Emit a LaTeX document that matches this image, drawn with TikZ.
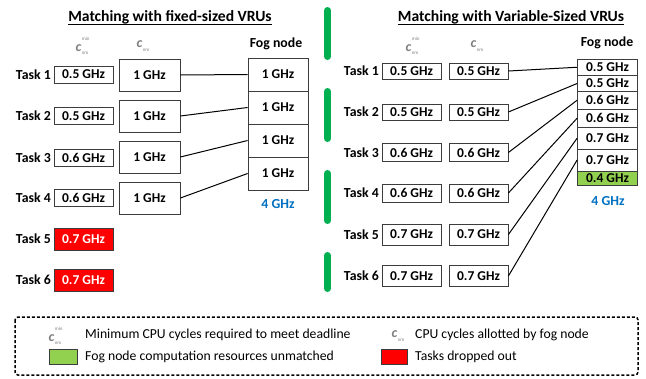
\documentclass[tikz,border=0pt]{standalone}
\usepackage{fontspec}
\setmainfont{Carlito}
\definecolor{barGreen}{RGB}{0,176,80}
\definecolor{fillGreen}{RGB}{146,208,80}
\definecolor{dropRed}{RGB}{255,0,0}
\definecolor{capBlue}{RGB}{0,112,192}
\definecolor{boxLine}{RGB}{60,60,60}
\definecolor{symGray}{RGB}{128,128,128}
\newcommand{\cmin}{\textbf{\textit{c}}\kern0.3pt\rlap{\raisebox{10.5pt}{\fontsize{5}{5}\selectfont min}}\raisebox{-3.5pt}{\fontsize{5}{5}\selectfont nm}}
\newcommand{\cnm}{\textbf{\textit{c}}\kern0.3pt\raisebox{-3.5pt}{\fontsize{5}{5}\selectfont nm}}
\begin{document}
\begin{tikzpicture}[x=1pt,y=-1pt,
  vbox/.style={draw=boxLine, line width=0.8pt, inner sep=0pt, font=\fontsize{13.5}{15}\selectfont\bfseries, text=black},
  minbox/.style={vbox, minimum width=59pt},
  redbox/.style={vbox, fill=dropRed, text=white, minimum width=59pt, minimum height=22pt},
  fogbox/.style={vbox, minimum width=60pt},
  tasklbl/.style={anchor=east, inner sep=0pt, font=\fontsize{13.8}{15}\selectfont\bfseries},
  headlbl/.style={inner sep=0pt, font=\fontsize{13.8}{15}\selectfont\bfseries},
  titlelbl/.style={inner sep=0pt, font=\fontsize{15.6}{17}\selectfont\bfseries},
  symlbl/.style={inner sep=0pt, text=symGray, font=\fontsize{14}{16}\selectfont},
  totlbl/.style={inner sep=0pt, text=capBlue, font=\fontsize{13.8}{15}\selectfont\bfseries},
  leglbl/.style={anchor=west, inner sep=0pt, font=\fontsize{13.7}{15}\selectfont},
  conn/.style={line width=1pt, black},
  uline/.style={line width=0.9pt, black},
  sepbar/.style={line width=7pt, barGreen, line cap=round}
]
\useasboundingbox (0,0) rectangle (646,378);

% ---------- separators ----------
\draw[sepbar] (327.5,10.5) -- (327.5,56.5);
\draw[sepbar] (327.5,91.5) -- (327.5,138.5);
\draw[sepbar] (327.5,173.5) -- (327.5,220.5);
\draw[sepbar] (327.5,255.5) -- (327.5,288.5);

% ---------- LEFT ----------
\node[titlelbl] (tl) at (170,17) {Matching with fixed-sized VRUs};
\draw[uline] ([yshift=-3pt]tl.base west) -- ([yshift=-3pt]tl.base east);
\node[symlbl] (lsa) at (82,46) {\cmin};
\node[symlbl] (lsb) at (143,46) {\cnm};
\node[headlbl] (lfh) at (276,44) {Fog node};

\node[tasklbl] (lt1) at (51,74.5) {Task 1};
\node[tasklbl] (lt2) at (51,116) {Task 2};
\node[tasklbl] (lt3) at (51,157.5) {Task 3};
\node[tasklbl] (lt4) at (51,198) {Task 4};
\node[tasklbl] (lt5) at (51,239) {Task 5};
\node[tasklbl] (lt6) at (51,280) {Task 6};

\node[minbox, minimum height=17pt] (lm1) at (83.5,74.5) {0.5 GHz};
\node[minbox, minimum height=17pt] (lm2) at (83.5,116) {0.5 GHz};
\node[minbox, minimum height=17pt] (lm3) at (83.5,157.5) {0.6 GHz};
\node[minbox, minimum height=17pt] (lm4) at (83.5,198) {0.6 GHz};
\node[redbox] (lm5) at (83.5,239) {0.7 GHz};
\node[redbox] (lm6) at (83.5,280) {0.7 GHz};

\node[vbox, minimum width=61pt, minimum height=32pt] (lc1) at (149.5,75) {1 GHz};
\node[vbox, minimum width=61pt, minimum height=32pt] (lc2) at (149.5,116) {1 GHz};
\node[vbox, minimum width=61pt, minimum height=32pt] (lc3) at (149.5,157) {1 GHz};
\node[vbox, minimum width=61pt, minimum height=32pt] (lc4) at (149.5,198) {1 GHz};

\node[fogbox, minimum height=33pt] (lf1) at (278,74.5) {1 GHz};
\node[fogbox, minimum height=33pt] (lf2) at (278,107.5) {1 GHz};
\node[fogbox, minimum height=33pt] (lf3) at (278,140.5) {1 GHz};
\node[fogbox, minimum height=33pt] (lf4) at (278,173.5) {1 GHz};
\node[totlbl] (lft) at (278,204) {4 GHz};

\draw[conn] (lc1.east) -- (lf1.west);
\draw[conn] (lc2.east) -- (lf2.west);
\draw[conn] (lc3.east) -- (lf3.west);
\draw[conn] (lc4.east) -- (lf4.west);

% ---------- RIGHT ----------
\node[titlelbl] (tr) at (511,17) {Matching with Variable-Sized VRUs};
\draw[uline] ([yshift=-3pt]tr.base west) -- ([yshift=-3pt]tr.base east);
\node[symlbl] (rsa) at (412,46) {\cmin};
\node[symlbl] (rsb) at (477,46) {\cnm};
\node[headlbl] (rfh) at (607,43) {Fog node};

\node[tasklbl] (rt1) at (379,71) {Task 1};
\node[tasklbl] (rt2) at (379,112) {Task 2};
\node[tasklbl] (rt3) at (379,152.5) {Task 3};
\node[tasklbl] (rt4) at (379,193) {Task 4};
\node[tasklbl] (rt5) at (379,234.5) {Task 5};
\node[tasklbl] (rt6) at (379,276) {Task 6};

\node[minbox, minimum height=16pt] (rm1) at (411.5,71) {0.5 GHz};
\node[minbox, minimum height=16pt] (rm2) at (411.5,112) {0.5 GHz};
\node[minbox, minimum height=18pt] (rm3) at (411.5,152.5) {0.6 GHz};
\node[minbox, minimum height=18pt] (rm4) at (411.5,193) {0.6 GHz};
\node[minbox, minimum height=21pt] (rm5) at (411.5,234.5) {0.7 GHz};
\node[minbox, minimum height=21pt] (rm6) at (411.5,276) {0.7 GHz};

\node[minbox, minimum height=16pt] (rc1) at (478.5,71) {0.5 GHz};
\node[minbox, minimum height=16pt] (rc2) at (478.5,112) {0.5 GHz};
\node[minbox, minimum height=18pt] (rc3) at (478.5,152.5) {0.6 GHz};
\node[minbox, minimum height=18pt] (rc4) at (478.5,193) {0.6 GHz};
\node[minbox, minimum height=21pt] (rc5) at (478.5,234.5) {0.7 GHz};
\node[minbox, minimum height=21pt] (rc6) at (478.5,276) {0.7 GHz};

\node[fogbox, minimum height=16.5pt] (rf1) at (607.5,67.25) {0.5 GHz};
\node[fogbox, minimum height=16pt] (rf2) at (607.5,83.5) {0.5 GHz};
\node[fogbox, minimum height=17.5pt] (rf3) at (607.5,100.25) {0.6 GHz};
\node[fogbox, minimum height=18.5pt] (rf4) at (607.5,118.25) {0.6 GHz};
\node[fogbox, minimum height=21.5pt] (rf5) at (607.5,138.25) {0.7 GHz};
\node[fogbox, minimum height=22pt] (rf6) at (607.5,160) {0.7 GHz};
\node[fogbox, fill=fillGreen, minimum height=14pt] (rf7) at (607.5,178) {0.4 GHz};
\node[totlbl] (rft) at (608,201) {4 GHz};

\draw[conn] (rc1.east) -- (rf1.west);
\draw[conn] (rc2.east) -- (rf2.west);
\draw[conn] (rc3.east) -- (rf3.west);
\draw[conn] (rc4.east) -- (rf4.west);
\draw[conn] (rc5.east) -- (rf5.west);
\draw[conn] (rc6.east) -- (rf6.west);

% ---------- LEGEND ----------
\draw[line width=1.5pt, dash pattern=on 3pt off 2pt, rounded corners=3pt] (15,317) rectangle (638,375);
\node[symlbl] (ga) at (55,336) {\cmin};
\node[leglbl] (gta) at (85,335) {Minimum CPU cycles required to meet deadline};
\node[symlbl] (gb) at (398,336) {\cnm};
\node[leglbl] (gtb) at (415,335) {CPU cycles allotted by fog node};
\node[draw=boxLine, line width=0.8pt, fill=fillGreen, minimum width=28pt, minimum height=15pt, inner sep=0pt] (gsq) at (63,356.5) {};
\node[leglbl] (gtc) at (85,356.5) {Fog node computation resources unmatched};
\node[draw=boxLine, line width=0.8pt, fill=dropRed, minimum width=26pt, minimum height=15pt, inner sep=0pt] (rsq) at (394,356.5) {};
\node[leglbl] (gtd) at (415,356.5) {Tasks dropped out};
\end{tikzpicture}
\end{document}
